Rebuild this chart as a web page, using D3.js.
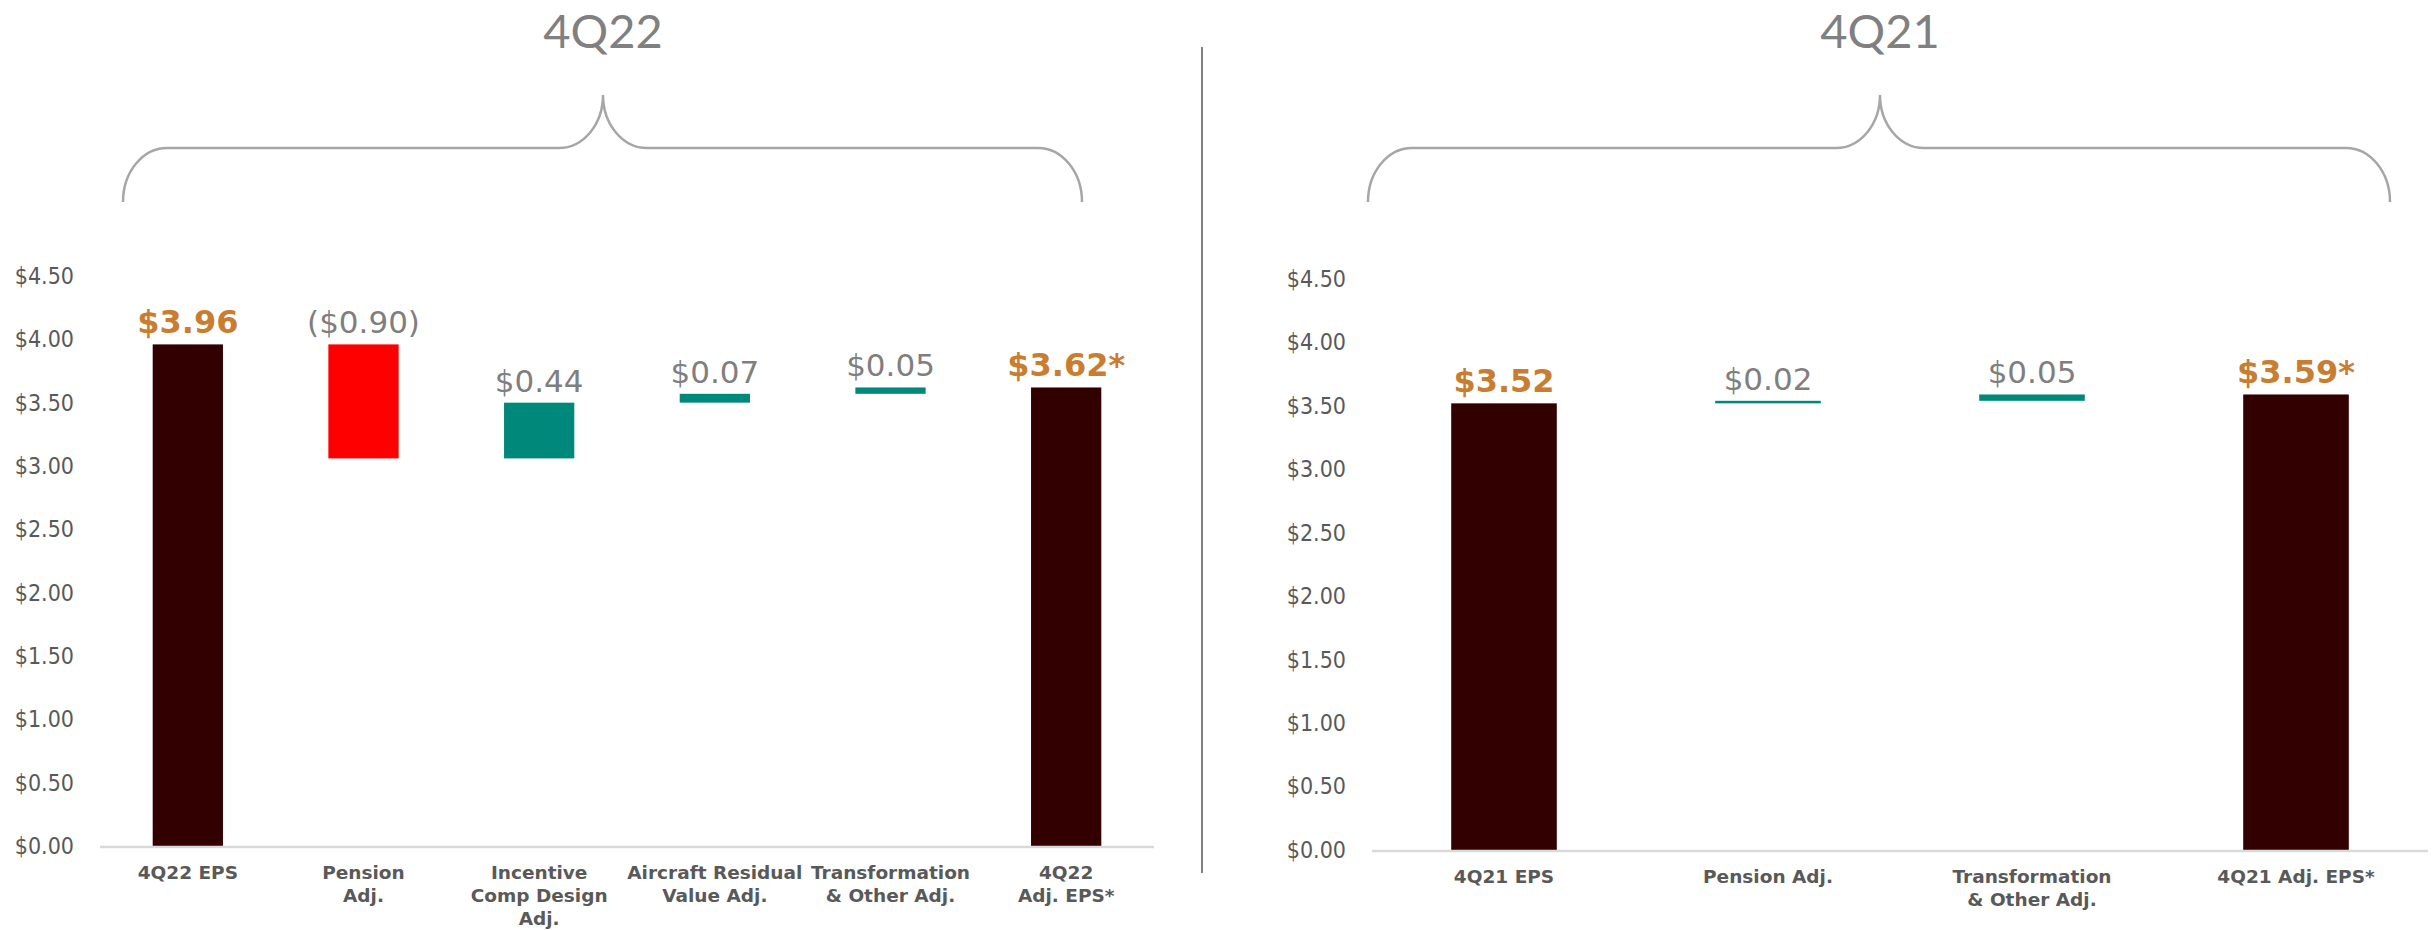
<!DOCTYPE html>
<html>
<head>
<meta charset="utf-8">
<script src="https://cdn.jsdelivr.net/npm/d3@7"></script>
<style>
  html, body { margin: 0; padding: 0; background: #fff; }
  svg { display: block; }
  .tick-label { font-family: "DejaVu Sans Condensed", "DejaVu Sans", sans-serif; font-stretch: condensed; fill: #595959; }
  .cat-label { font-family: "DejaVu Sans", Verdana, sans-serif; font-weight: bold; fill: #595959; }
</style>
</head>
<body>
<div id="chart"></div>
<script>
// ---- Data ----
const leftCategories = ["4Q22 EPS", "Pension\nAdj.", "Incentive\nComp Design\nAdj.", "Aircraft Residual\nValue Adj.", "Transformation\n& Other Adj.", "4Q22\nAdj. EPS*"];
const leftValues = [3.96, -0.90, 0.44, 0.07, 0.05, 3.62];
const leftKinds = ["total", "adj", "adj", "adj", "adj", "total"];
const leftLabels = ["$3.96", "($0.90)", "$0.44", "$0.07", "$0.05", "$3.62*"];

const rightCategories = ["4Q21 EPS", "Pension Adj.", "Transformation\n& Other Adj.", "4Q21 Adj. EPS*"];
const rightValues = [3.52, 0.02, 0.05, 3.59];
const rightKinds = ["total", "adj", "adj", "total"];
const rightLabels = ["$3.52", "$0.02", "$0.05", "$3.59*"];

const yTicks = [0, 0.5, 1, 1.5, 2, 2.5, 3, 3.5, 4, 4.5];
const panelTitles = ["4Q22", "4Q21"];

// ---- Layout ----
const width = 2435;
const height = 930;

const colors = {
  total: "#330000",
  neg: "#FF0000",
  pos: "#00897B",
  totalLabel: "#C97D30",
  adjLabel: "#7F7F7F"
};

const svg = d3.select("#chart")
  .append("svg")
    .attr("width", width)
    .attr("height", height);

// build waterfall segments: start / end for each bar
const makeSteps = (values, kinds) => {
  let running = 0;
  return values.map((v, i) => {
    let start, end;
    if (kinds[i] === "total") {
      start = 0; end = v; running = v;
    } else {
      start = running; end = running + v; running = end;
    }
    return {value: v, kind: kinds[i], start, end};
  });
};

const drawPanel = (opts) => {
  const {categories, values, kinds, labels, x0, x1, y0, y1, title, brace} = opts;

  const steps = makeSteps(values, kinds).map((d, i) => ({...d, cat: categories[i], label: labels[i]}));

  const xScale = d3.scaleBand()
    .domain(categories)
    .range([x0, x1])
    .paddingInner(0.6)
    .paddingOuter(0.3);

  const yScale = d3.scaleLinear()
    .domain([0, 4.5])
    .range([y0, y1]);

  const g = svg.append("g");

  // y-axis labels only
  const yAxis = d3.axisLeft(yScale)
    .tickValues(yTicks)
    .tickFormat(d3.format("$.2f"))
    .tickSize(0)
    .tickPadding(26);

  g.append("g")
      .attr("transform", `translate(${x0}, 0)`)
      .call(yAxis)
      .call(ax => ax.select(".domain").remove())
      .call(ax => ax.selectAll("text")
        .attr("class", "tick-label")
        .attr("font-size", 23)
        .attr("font-family", null)
        .attr("fill", null));

  // bars
  g.selectAll(".bar")
    .data(steps)
    .join("rect")
      .attr("class", "bar")
      .attr("x", d => xScale(d.cat))
      .attr("width", xScale.bandwidth())
      .attr("y", d => yScale(Math.max(d.start, d.end)))
      .attr("height", d => Math.max(2, Math.abs(yScale(d.start) - yScale(d.end))))
      .attr("fill", d => d.kind === "total" ? colors.total : (d.value < 0 ? colors.neg : colors.pos));

  // x baseline
  g.append("line")
      .attr("x1", x0)
      .attr("x2", x1)
      .attr("y1", y0 + 1)
      .attr("y2", y0 + 1)
      .attr("stroke", "#D9D9D9")
      .attr("stroke-width", 2.5);

  // value labels
  g.selectAll(".val-label")
    .data(steps)
    .join("text")
      .attr("class", "val-label")
      .attr("x", d => xScale(d.cat) + xScale.bandwidth() / 2)
      .attr("y", d => yScale(Math.max(d.start, d.end)) - 11)
      .attr("text-anchor", "middle")
      .attr("font-family", "'DejaVu Sans', Verdana, sans-serif")
      .attr("font-size", d => d.kind === "total" ? 32 : 31)
      .attr("font-weight", d => d.kind === "total" ? "bold" : "normal")
      .attr("fill", d => d.kind === "total" ? colors.totalLabel : colors.adjLabel)
      .text(d => d.label);

  // category labels (multi-line)
  const cats = g.selectAll(".cat-label")
    .data(categories)
    .join("text")
      .attr("class", "cat-label")
      .attr("font-size", 18.5)
      .attr("text-anchor", "middle")
      .attr("x", d => xScale(d) + xScale.bandwidth() / 2)
      .attr("y", y0 + 33);

  cats.selectAll("tspan")
    .data(d => d.split("\n"))
    .join("tspan")
      .attr("x", function() { return d3.select(this.parentNode).attr("x"); })
      .attr("dy", (d, i) => i === 0 ? 0 : 23)
      .text(d => d);

  // brace over the panel
  const {bx0, bx1, bxm} = brace;
  const yEnd = 202, yBar = 148, yTip = 95, rx = 44;
  const p = `M${bx0},${yEnd} A${rx},${yEnd - yBar} 0 0 1 ${bx0 + rx},${yBar}` +
    ` H${bxm - rx} A${rx},${yBar - yTip} 0 0 0 ${bxm},${yTip}` +
    ` A${rx},${yBar - yTip} 0 0 0 ${bxm + rx},${yBar}` +
    ` H${bx1 - rx} A${rx},${yEnd - yBar} 0 0 1 ${bx1},${yEnd}`;

  svg.append("path")
      .attr("d", p)
      .attr("fill", "none")
      .attr("stroke", "#A6A6A6")
      .attr("stroke-width", 2.5);

  svg.append("text")
      .attr("x", bxm)
      .attr("y", 48)
      .attr("text-anchor", "middle")
      .attr("font-family", "Lato, 'Open Sans', sans-serif")
      .attr("font-size", 47)
      .attr("fill", "#808080")
      .text(title);
};

drawPanel({
  categories: leftCategories, values: leftValues, kinds: leftKinds, labels: leftLabels,
  x0: 100, x1: 1154, y0: 846, y1: 276,
  title: panelTitles[0],
  brace: {bx0: 123, bx1: 1082, bxm: 603}
});

drawPanel({
  categories: rightCategories, values: rightValues, kinds: rightKinds, labels: rightLabels,
  x0: 1372, x1: 2428, y0: 850, y1: 279,
  title: panelTitles[1],
  brace: {bx0: 1368, bx1: 2390, bxm: 1880}
});

// separator between the two panels
svg.append("line")
    .attr("x1", 1202)
    .attr("x2", 1202)
    .attr("y1", 47)
    .attr("y2", 873)
    .attr("stroke", "#808080")
    .attr("stroke-width", 2);
</script>
</body>
</html>
